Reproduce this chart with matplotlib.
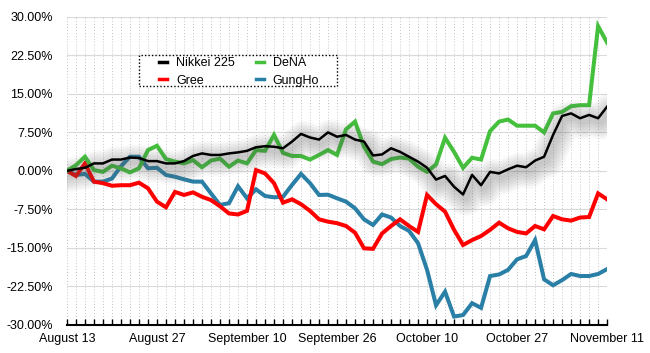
import matplotlib
matplotlib.use("Agg")
import matplotlib.pyplot as plt
import matplotlib.transforms as mtransforms
from matplotlib.patches import Rectangle
from matplotlib.ticker import FuncFormatter, MultipleLocator
import numpy as np

plt.rcParams["font.family"] = ["Liberation Sans", "DejaVu Sans"]

date_labels = ["August 13", "August 27", "September 10", "September 26",
               "October 10", "October 27", "November 11"]

# daily % change since August 13, one value per trading day
nikkei = [0.0, 0.35, 0.6, 1.45, 1.45, 2.2, 2.2, 2.6, 2.5, 1.9,
          1.9, 1.45, 1.45, 1.9, 2.9, 3.4, 3.1, 3.1, 3.4, 3.6,
          3.9, 4.6, 4.8, 4.7, 4.4, 5.7, 7.2, 6.5, 6.1, 7.5,
          6.65, 7.0, 6.1, 5.7, 3.0, 3.2, 4.4, 3.7, 2.75, 1.8,
          0.6, -1.7, -1.0, -3.1, -4.6, -0.8, -2.8, -0.2, -0.5, 0.3,
          1.0, 0.7, 2.0, 2.75, 7.0, 10.7, 11.2, 10.25, 10.9, 10.25,
          12.5]
gree = [0.0, -1.0, 1.45, -2.1, -2.4, -2.9, -2.8, -2.8, -2.3, -3.4,
        -6.0, -7.1, -4.1, -4.7, -4.2, -5.05, -5.7, -6.9, -8.3, -8.5,
        -7.8, 0.15, -0.5, -2.4, -6.2, -5.55, -6.5, -7.8, -9.45, -9.9,
        -10.2, -10.75, -12.05, -15.1, -15.2, -12.2, -10.75, -9.45, -10.75, -11.9,
        -4.7, -6.5, -7.95, -11.5, -14.45, -13.5, -12.7, -11.5, -10.1, -11.2,
        -11.9, -12.2, -10.75, -11.4, -8.8, -9.45, -9.7, -9.1, -9.0, -4.4,
        -5.55]
dena = [0.0, 1.1, 2.75, 0.15, -0.2, 1.0, 0.5, -0.3, 0.5, 4.05,
        4.9, 2.3, 1.8, 1.45, 2.1, 0.7, 2.0, 2.4, 0.8, 2.0,
        1.45, 4.05, 3.9, 7.0, 3.5, 2.9, 2.9, 2.2, 3.1, 4.05,
        3.1, 8.1, 9.6, 4.7, 1.8, 1.3, 2.3, 2.6, 2.4, 0.8,
        -0.2, 1.25, 6.45, 3.7, 0.6, 2.55, 2.2, 7.75, 9.6, 10.0,
        8.8, 8.8, 8.8, 7.5, 11.2, 11.5, 12.6, 12.8, 12.8, 28.2,
        25.0]
gungho = [0.0, -0.8, -0.6, -2.1, -2.1, -1.5, 0.9, 2.75, 2.75, 0.5,
          0.6, -0.8, -1.15, -1.65, -2.1, -2.1, -4.4, -6.65, -6.3, -3.0,
          -5.35, -3.6, -4.9, -5.15, -5.05, -2.75, -0.6, -2.4, -4.7, -4.65,
          -5.35, -6.0, -7.3, -9.45, -10.55, -8.5, -9.1, -10.75, -11.7, -14.1,
          -19.3, -26.2, -23.55, -28.4, -28.1, -25.8, -26.7, -20.5, -20.2, -19.3,
          -17.25, -16.6, -13.5, -21.15, -22.3, -21.3, -20.1, -20.5, -20.5, -20.1,
          -19.15]

x = np.arange(len(nikkei))

fig = plt.figure(figsize=(6.5, 3.53), dpi=100)
ax = fig.add_axes([0.103, 0.080, 0.831, 0.872])

green = "#44c03c"
blue = "#2a7fa6"

ax.plot(x, gungho, color=blue, lw=2.9, label="GungHo", zorder=3,
        solid_joinstyle="miter")
ax.plot(x, gree, color="#ff0000", lw=2.9, label="Gree", zorder=3,
        solid_joinstyle="miter")
ax.plot(x, dena, color=green, lw=2.9, label="DeNA", zorder=3,
        solid_joinstyle="miter")

# soft grey shadow under the Nikkei line
shadow_tf = mtransforms.offset_copy(ax.transData, fig=fig, x=2, y=-3, units="points")
for w in range(3, 26, 2):
    ax.plot(x, nikkei, color="#606060", lw=w, alpha=0.03, transform=shadow_tf,
            zorder=4, solid_capstyle="round", solid_joinstyle="round")
ax.plot(x, nikkei, color="black", lw=1.8, label="Nikkei 225", zorder=5)

ax.set_xlim(0, len(x) - 1)
ax.set_ylim(-30, 30)

ax.yaxis.set_major_locator(MultipleLocator(7.5))
ax.yaxis.set_major_formatter(FuncFormatter(lambda v, p: f"{v:.2f}%"))
ax.set_xticks(x[::10])
ax.set_xticklabels(date_labels)
ax.set_xticks(x, minor=True)

ax.tick_params(axis="y", length=0, pad=10, labelsize=9)
ax.tick_params(axis="x", which="both", direction="in", length=4, width=1,
               pad=6, labelsize=9)

for s in ["left", "right", "top"]:
    ax.spines[s].set_visible(False)
ax.spines["bottom"].set_linewidth(1.5)

ax.grid(axis="y", color="#d9d9d9", lw=0.8, zorder=0)
for xi in x:
    ax.axvline(xi, color="#b0b0b0", lw=0.6, ls=(0, (1, 2.5)), zorder=0)

# legend box drawn separately (dotted border, wide side padding)
box = Rectangle((0.1333, 0.7755), 0.3667, 0.1007, transform=ax.transAxes,
                facecolor="white", edgecolor="black", lw=1.0,
                ls=(0, (1, 1.5)), zorder=6)
ax.add_patch(box)

handles, labels = ax.get_legend_handles_labels()
order = [labels.index(n) for n in ["Nikkei 225", "Gree", "DeNA", "GungHo"]]
leg = ax.legend([handles[i] for i in order], [labels[i] for i in order],
                ncol=2, loc="upper left", bbox_to_anchor=(0.1704, 0.869),
                borderaxespad=0, borderpad=0, frameon=False, fontsize=9,
                handlelength=0.64, handletextpad=0.72, columnspacing=1.68,
                labelspacing=0.42)
leg.set_zorder(7)
for h in leg.get_lines():
    h.set_linewidth(2.5)

fig.savefig("out.png", dpi=100)
